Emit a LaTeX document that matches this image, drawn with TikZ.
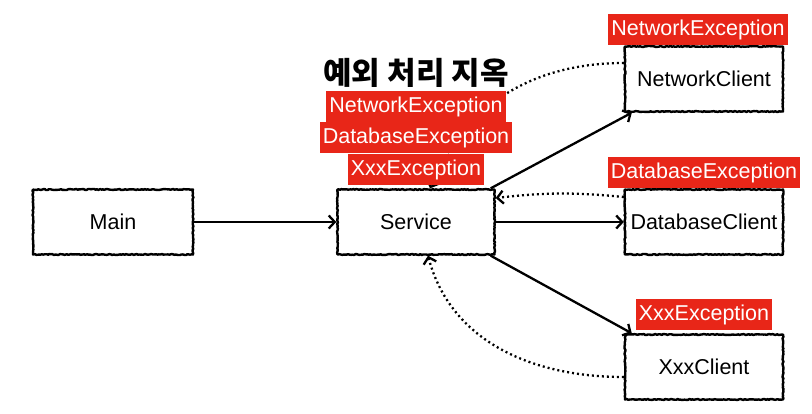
\documentclass[tikz,border=0pt]{standalone}
\usepackage{fontspec}
\setmainfont{Liberation Sans}
\newfontfamily\krfont{Noto Sans CJK KR}
\usetikzlibrary{positioning,arrows.meta,decorations.pathmorphing}
\definecolor{excred}{RGB}{232,38,24}

\begin{document}
\begin{tikzpicture}[x=1pt,y=-1pt]
\tikzset{box/.style={draw, line width=2.4pt, line join=round, minimum width=158pt, minimum height=65pt, font=\fontsize{21.5}{25}\selectfont, decorate, decoration={random steps, segment length=1.5pt, amplitude=0.5pt}}}
\tikzset{exc/.style={fill=excred, text=white, inner xsep=3pt, inner ysep=5pt, text height=16pt, text depth=4.7pt, font=\fontsize{21.5}{25}\selectfont}}
\tikzset{call/.style={line width=2.3pt, -{Straight Barb[length=6pt,width=13pt,line width=2.3pt]}}}
\tikzset{throw/.style={call, dash pattern=on 2pt off 3pt}}
\useasboundingbox (0,0) rectangle (812,413);

\node[box, minimum width=160pt] (main) at (113,222) {Main};
\node[box, minimum width=157pt] (service) at (416,222) {Service};
\node[box] (netclient) at (704,79) {NetworkClient};
\node[box] (dbclient) at (704,222) {DatabaseClient};
\node[box] (xxxclient) at (704,367) {XxxClient};

\draw[call] (main.east) -- (service.west);
\draw[call] ([xshift=-5pt]service.north east) -- ([xshift=8pt]netclient.south west);
\draw[call] (service.east) -- (dbclient.west);
\draw[call] ([xshift=-5pt]service.south east) -- ([xshift=8pt]xxxclient.north west);

\draw[throw] ([yshift=16pt]netclient.west) to[out=180, in=68] ([xshift=14pt]service.north);
\draw[throw] ([yshift=25pt]dbclient.west) to[bend right=6] ([yshift=24pt]service.east);
\draw[throw] ([yshift=-10pt]xxxclient.west) to[out=180, in=-75] ([xshift=12pt]service.south);

\node[exc, above=0pt of netclient.north, xshift=-6pt] (netexc) {NetworkException};
\node[exc, above=0pt of dbclient.north] (dbexc) {DatabaseException};
\node[exc, above=3pt of xxxclient.north] (xxxexc) {XxxException};

\node[exc, above=3pt of service.north] (xxxexc2) {XxxException};
\node[exc, above=1pt of xxxexc2] (dbexc2) {DatabaseException};
\node[exc, above=0pt of dbexc2] (netexc2) {NetworkException};
\node[font=\krfont\bfseries\fontsize{31}{35}\selectfont, above=0pt of netexc2] (title) {예외 처리 지옥};
\end{tikzpicture}
\end{document}
